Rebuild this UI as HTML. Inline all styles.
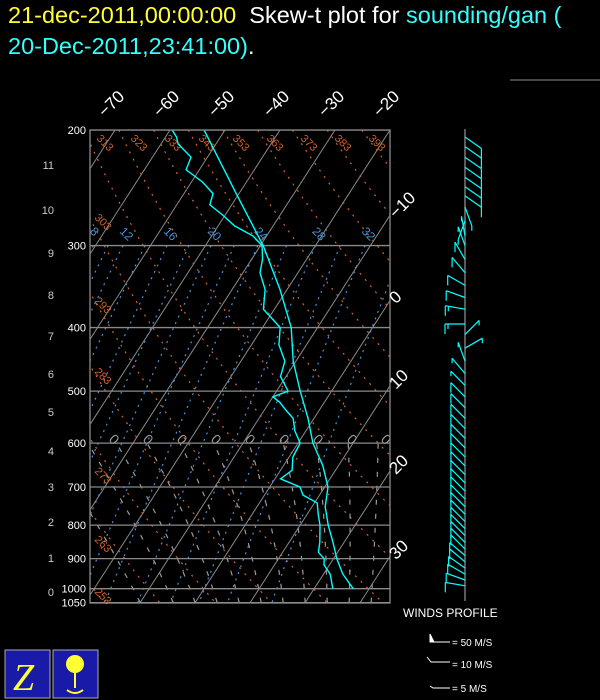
<!DOCTYPE html>
<html><head><meta charset="utf-8">
<style>
html,body{margin:0;padding:0;background:#000;}
body{width:600px;height:700px;overflow:hidden;position:relative;font-family:"Liberation Sans",sans-serif;}
.hdr{position:absolute;left:8px;font-size:23.5px;white-space:nowrap;}
</style></head>
<body>
<div class="hdr" style="top:2px"><span style="color:#ffff33">21-dec-2011,00:00:00</span><span style="color:#fff">&nbsp; Skew-t plot for </span><span style="color:#33ffff">sounding/gan (</span></div>
<div class="hdr" style="top:33px"><span style="color:#33ffff">20-Dec-2011,23:41:00)</span><span style="color:#fff">.</span></div>
<svg id="c" width="600" height="700" style="position:absolute;left:0;top:0" font-family="Liberation Sans, sans-serif"></svg>
<script>
// ---- data ----
const tempP = [200,250,300,350,400,450,500,550,600,650,700,750,800,850,900,950,1000];
const tempT = [-53.8,-40.5,-29.5,-21.3,-14.8,-10.5,-5.7,-1.1,2.7,7.2,10.6,12.4,15.1,18,20.6,23.5,27.1];
const dewP = [200,205,210,220,230,240,250,260,270,280,290,300,315,330,350,375,400,425,450,475,500,510,520,535,550,575,600,630,660,680,700,720,740,770,800,850,880,900,920,950,1000];
const dewT = [-59.6,-58,-56.9,-53,-52.4,-48,-44.7,-44,-40.3,-37,-32.5,-29.7,-28,-26.9,-24,-22,-16.8,-15,-12,-11,-7.9,-10,-8.1,-6,-3.8,-2,0.4,0.7,2.1,1,5.5,7,10.5,12,13.6,15.6,16.5,18.3,19,21.2,23.4];
const pressureTicks = [200,300,400,500,600,700,800,900,1000,1050];
const tempTicks = [-70,-60,-50,-40,-30,-20,-10,0,10,20,30];
const heightTicks = [0,1,2,3,4,5,6,7,8,9,10,11];
const heightY = [592,558,522,487,451,412,374,336,295,253,210,165];
const thetaLabels = [253,263,273,283,293,303,313,323,333,343,353,363,373,383,393];
const mixLabels = [8,12,16,20,24,28,32];
const mixTd300 = [-60.4,-55,-47,-39,-30.5,-20,-11];
const moistStart = [-10,-4,0,4,8,12,16,20,24,28,32];
const barbP = [205,212,220,228,236,244,252,262,275,290,300,315,330,345,360,375,395,410,430,450,470,490,510,530,550,570,590,610,630,650,670,690,710,730,750,770,790,810,830,850,870,890,910,930,950,970,990];
const barbDir = [125,125,125,125,125,125,125,160,200,350,340,330,320,300,290,280,270,45,60,340,320,315,315,315,315,315,315,315,315,315,315,315,315,315,315,315,315,315,315,315,315,310,310,305,300,290,280];
const barbSpd = [12,12,12,12,12,12,12,5,5,5,8,10,12,12,10,15,15,5,5,8,8,8,10,10,10,10,10,10,10,10,10,10,10,10,10,10,10,10,10,10,10,10,10,12,12,12,10];

const svg=document.getElementById('c');const NS='http://www.w3.org/2000/svg';
const X0=90,X1=390,Y0=130,Y1=603;
function yP(p){return Y0+285*Math.log(p/200);}
function xT(t,p){return 390+5.5*(t+20)-(yP(p)-130)*0.645;}
function el(tag,attrs,parent){const e=document.createElementNS(NS,tag);for(const k in attrs)e.setAttribute(k,attrs[k]);(parent||svg).appendChild(e);return e;}
const clip=el('clipPath',{id:'cp'});el('rect',{x:X0,y:Y0,width:X1-X0,height:Y1-Y0},clip);
const g=el('g',{'clip-path':'url(#cp)'});


function pathFrom(pts){return pts.map((q,i)=>(i?'L':'M')+q[0].toFixed(1)+','+q[1].toFixed(1)).join('');}
const plevs=[];for(let p=200;p<=1050;p+=10)plevs.push(p);
// isotherms
for(let t=-120;t<=40;t+=10){const l=el('line',{x1:xT(t,200),y1:yP(200),x2:xT(t,1050),y2:yP(1050),stroke:'#8a8a8a','stroke-width':1},g);

}
// dry adiabats
thetaLabels.concat([243,233,403,413,423]).forEach(th=>{const pts=plevs.map(p=>[xT(th*Math.pow(p/1000,0.286)-273.15,p),yP(p)]);
const e=el('path',{d:pathFrom(pts),fill:'none',stroke:'#d2622a','stroke-width':1.2,'stroke-dasharray':'2 6'},g);

});
// mixing-ratio-like lines
function es(t){return 6.112*Math.exp(17.67*t/(t+243.5));}
function tdE(e){const l=Math.log(e/6.112);return 243.5*l/(17.67-l);}
const mixAll=[];mixTd300.forEach((t,i)=>{mixAll.push(t);if(i<mixTd300.length-1)mixAll.push((t+mixTd300[i+1])/2);});mixAll.push(-4);
mixAll.forEach(t0=>{const w=es(t0)/300;const pts=plevs.filter(p=>p>=300).map(p=>[xT(tdE(w*p),p),yP(p)]);
const e=el('path',{d:pathFrom(pts),fill:'none',stroke:'#4a90d9','stroke-width':1.2,'stroke-dasharray':'2 5'},g);

});
// moist adiabats
function gm(t,p){const T=t+273.15,e=es(t),r=0.622*e/(p-e),L=2.5e6;
return (287*T+L*r)/(1004+L*L*r*0.622/(287*T*T))/p;}
moistStart.concat([36,-20,-30]).forEach(t0=>{let t=t0,pts=[[xT(t,1050),yP(1050)]];
for(let p=1050;p>600;p-=5){t-=gm(t,p)*5;pts.push([xT(t,p-5),yP(p-5)]);}
const e=el('path',{d:pathFrom(pts),fill:'none',stroke:'#9a9a9a','stroke-width':1.2,'stroke-dasharray':'5 9'},g);

});
// pressure lines
pressureTicks.forEach(p=>{const l=el('line',{x1:X0,x2:X1,y1:yP(p),y2:yP(p),stroke:'#8a8a8a','stroke-width':1.3},g);

});
const thLbl=[[253,985],[263,820],[273,645],[283,455],[293,355],[303,265]];
thLbl.forEach(a=>{const t=el('text',{x:94,y:yP(a[1])+8,fill:'#d2622a','font-size':11,transform:'rotate(45 '+94+' '+(yP(a[1])+8)+')'});t.textContent=a[0];

});
[313,323,333,343,353,363,373,383,393].forEach((th,i)=>{const x=96+i*34;const t=el('text',{x:x,y:139,fill:'#d2622a','font-size':11,transform:'rotate(45 '+x+' 139)'},g);t.textContent=th;

});
mixLabels.forEach((w,i)=>{const x=xT(mixTd300[i],300);const t=el('text',{x:x-4,y:232,fill:'#4a90d9','font-size':12,transform:'rotate(45 '+(x-4)+' 232)'},g);t.textContent=w;

});
// moist labels at 600
[-4,0,4,8,12,16,20,24,28].forEach((t0,i)=>{const x=108+i*34;const t=el('text',{x:x,y:440,fill:'#9a9a9a','font-size':14,transform:'rotate(45 '+x+' 440)'},g);t.textContent='0';

});
const br=el('rect',{x:X0,y:Y0,width:X1-X0,height:Y1-Y0,fill:'none',stroke:'#8a8a8a','stroke-width':1.3});


function prof(P,T,name){const pts=P.map((p,i)=>[xT(T[i],p),yP(p)]);const e=el('path',{d:pathFrom(pts),fill:'none',stroke:'#00ffff','stroke-width':1.4},g);

}
prof(tempP,tempT,'temperature-profile');prof(dewP,dewT,'dewpoint-profile');
pressureTicks.forEach(p=>{const t=el('text',{x:86,y:yP(p)+4,fill:'#fff','font-size':11,'text-anchor':'end'});t.textContent=p;

});
heightTicks.forEach((h,i)=>{const t=el('text',{x:54,y:heightY[i]+4,fill:'#ccc','font-size':11,'text-anchor':'end'});t.textContent=h;

});
tempTicks.forEach(tt=>{let x,y;const xt=xT(tt,200);
if(xt<=X1+2){x=xt-10;y=118;}else{const yy=130+(5.5*(tt+20))/0.645;x=396;y=yy+4;}
const t=el('text',{x:x,y:y,fill:'#fff','font-size':17,transform:'rotate(-45 '+x+' '+y+')'});t.textContent=tt<0?'\u2212'+(-tt):tt;

});
const wl=el('line',{x1:465,x2:465,y1:129,y2:601,stroke:'#8a8a8a','stroke-width':1.3});


barbP.forEach((p,i)=>{const y=yP(p),d=barbDir[i]*Math.PI/180,L=20;const sx=Math.sin(d),sy=-Math.cos(d);const ex=465+sx*L,ey=y+sy*L;
let dd='M465,'+y.toFixed(1)+'L'+ex.toFixed(1)+','+ey.toFixed(1);
let s=barbSpd[i],k=0;
while(s>=5){const len=s>=10?10:5;const bx=ex-sx*k*3,by=ey-sy*k*3;
const ty=by+(sx>0?len:len);dd+='M'+bx.toFixed(1)+','+by.toFixed(1)+'L'+bx.toFixed(1)+','+(sx>0?by+len:by+len).toFixed(1);s-=len;k++;}
const b=el('path',{d:dd,stroke:'#00ffff','stroke-width':1.2,fill:'none'});

});
const gl=el('line',{x1:510,x2:600,y1:80,y2:80,stroke:'#8a8a8a','stroke-width':1});


</script>
<div style="position:absolute;left:403px;top:606px;color:#fff;font-size:12px">WINDS PROFILE</div>
<svg width="110" height="70" style="position:absolute;left:425px;top:630px">
<path d="M5,4v8h4z M5,12h20" stroke="#fff" fill="#fff" stroke-width="1"/>
<text x="27" y="16" fill="#fff" font-size="10" font-family="Liberation Sans">= 50 M/S</text>
<path d="M2,27l4,5h19" stroke="#fff" fill="none"/>
<text x="27" y="38" fill="#fff" font-size="10" font-family="Liberation Sans">= 10 M/S</text>
<path d="M5,56l3,2h17" stroke="#fff" fill="none"/>
<text x="27" y="62" fill="#fff" font-size="10" font-family="Liberation Sans">= 5 M/S</text>
</svg>
<svg width="100" height="52" style="position:absolute;left:3px;top:648px">
<rect x="2" y="2" width="45" height="48" fill="#1a1aa8" stroke="#aaa"/>
<text x="10" y="42" fill="#ffff33" font-size="38" font-style="italic" font-family="Liberation Serif">Z</text>
<rect x="50" y="2" width="45" height="48" fill="#1a1aa8" stroke="#aaa"/>
<circle cx="72" cy="16" r="9" fill="#ffff33"/><line x1="72" y1="25" x2="72" y2="40" stroke="#ffff33" stroke-width="2"/>
<path d="M64,42q8,6 16,0" stroke="#ffff33" fill="none" stroke-width="2"/>
</svg>
</body></html>
